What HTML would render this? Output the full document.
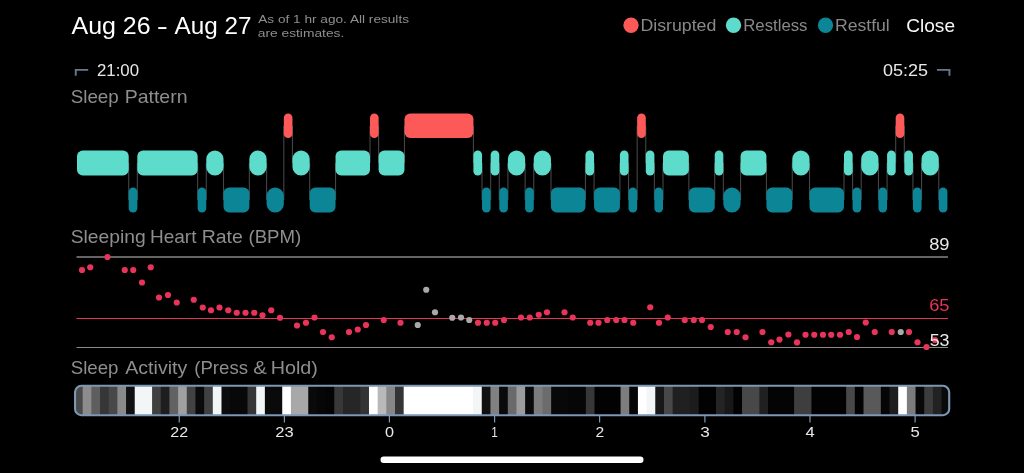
<!DOCTYPE html>
<html lang="en"><head><meta charset="utf-8"><title>Sleep</title>
<style>
html,body{margin:0;padding:0;background:#000;}
body{width:1024px;height:473px;overflow:hidden;position:relative;font-family:"Liberation Sans",Arial,sans-serif;}
svg{position:absolute;left:0;top:0;display:block}
text{font-family:"Liberation Sans",Arial,sans-serif;}
.title{font-size:24.8px;fill:#fff}
.sub{font-size:11.8px;fill:#8e8e8e}
.sec{font-size:18.6px;fill:#8e8e8e}
.leg{font-size:16px;fill:#898989}
.close{font-size:18.2px;fill:#f7f7f7}
.time{font-size:16.6px;fill:#e8e8e8}
.ax{font-size:15.2px;fill:#e8e8e8}
.num{font-size:16.6px;fill:#eaeaea}
</style></head><body>
<svg width="1024" height="473" viewBox="0 0 1024 473">
<rect width="1024" height="473" fill="#000"/>
<text x="71.50" y="34.3" class="title" textLength="79.12" lengthAdjust="spacingAndGlyphs">Aug 26</text><text x="156.69" y="33.599999999999994" class="title" textLength="11.12" lengthAdjust="spacingAndGlyphs">-</text><text x="174.60" y="34.3" class="title" textLength="76.92" lengthAdjust="spacingAndGlyphs">Aug 27</text>
<text x="258.25" y="22.5" class="sub" textLength="150.75" lengthAdjust="spacingAndGlyphs">As of 1 hr ago. All results</text>
<text x="257.74" y="36.9" class="sub" textLength="86.53" lengthAdjust="spacingAndGlyphs">are estimates.</text>
<circle cx="631" cy="25.25" r="7.65" fill="#fd5958"/>
<text x="640.46" y="31.25" class="leg" textLength="75.82" lengthAdjust="spacingAndGlyphs">Disrupted</text>
<circle cx="733.5" cy="25.25" r="7.65" fill="#5edccb"/>
<text x="743.22" y="31.25" class="leg" textLength="64.29" lengthAdjust="spacingAndGlyphs">Restless</text>
<circle cx="825.5" cy="25.25" r="7.65" fill="#0c8696"/>
<text x="834.93" y="31.25" class="leg" textLength="54.87" lengthAdjust="spacingAndGlyphs">Restful</text>
<text x="906.22" y="31.75" class="close" textLength="48.80" lengthAdjust="spacingAndGlyphs">Close</text>
<path d="M75.75 75.8V69.9H88.2" stroke="#67798f" stroke-width="1.9" fill="none"/>
<text x="96.98" y="75.8" class="time" textLength="42.04" lengthAdjust="spacingAndGlyphs">21:00</text>
<text x="882.98" y="75.8" class="time" textLength="45.04" lengthAdjust="spacingAndGlyphs">05:25</text>
<path d="M937 69.9H949.45V75.8" stroke="#67798f" stroke-width="1.9" fill="none"/>
<text x="70.72" y="102.6" class="sec" textLength="48.06" lengthAdjust="spacingAndGlyphs">Sleep</text><text x="124.68" y="102.6" class="sec" textLength="62.88" lengthAdjust="spacingAndGlyphs">Pattern</text>
<path d="M128.71 163.0V200.0M137.32 200.0V163.0M197.65 163.0V200.0M206.27 200.0V163.0M223.50 163.0V200.0M249.36 200.0V163.0M266.59 163.0V200.0M283.83 200.0V125.75M292.45 125.75V163.0M309.68 163.0V200.0M335.53 200.0V163.0M370.01 163.0V125.75M378.62 125.75V163.0M404.48 163.0V125.75M473.42 125.75V163.0M482.04 163.0V200.0M490.66 200.0V163.0M499.27 163.0V200.0M507.89 200.0V163.0M525.13 163.0V200.0M533.74 200.0V163.0M550.98 163.0V200.0M585.45 200.0V163.0M594.07 163.0V200.0M619.92 200.0V163.0M628.54 163.0V200.0M637.16 200.0V125.75M645.78 125.75V163.0M654.39 163.0V200.0M663.01 200.0V163.0M688.87 163.0V200.0M714.72 200.0V163.0M723.34 163.0V200.0M740.57 200.0V163.0M766.43 163.0V200.0M792.28 200.0V163.0M809.51 163.0V200.0M843.99 200.0V163.0M852.60 163.0V200.0M861.22 200.0V163.0M878.46 163.0V200.0M887.08 200.0V163.0M895.69 163.0V125.75M904.31 125.75V163.0M912.93 163.0V200.0M921.55 200.0V163.0M938.78 163.0V200.0" stroke="#454545" stroke-width="1.1" fill="none"/>
<rect x="77.00" y="150.5" width="51.71" height="25.0" rx="5.70" fill="#5edccb"/>
<rect x="128.71" y="187.5" width="8.62" height="25.0" rx="4.31" fill="#0c8696"/>
<rect x="137.32" y="150.5" width="60.32" height="25.0" rx="5.70" fill="#5edccb"/>
<rect x="197.65" y="187.5" width="8.62" height="25.0" rx="4.31" fill="#0c8696"/>
<rect x="206.27" y="150.5" width="17.24" height="25.0" rx="8.62" fill="#5edccb"/>
<rect x="223.50" y="187.5" width="25.85" height="25.0" rx="5.70" fill="#0c8696"/>
<rect x="249.36" y="150.5" width="17.24" height="25.0" rx="8.62" fill="#5edccb"/>
<rect x="266.59" y="187.5" width="17.24" height="25.0" rx="8.62" fill="#0c8696"/>
<rect x="283.83" y="113.5" width="8.62" height="24.5" rx="4.31" fill="#fd5958"/>
<rect x="292.45" y="150.5" width="17.24" height="25.0" rx="8.62" fill="#5edccb"/>
<rect x="309.68" y="187.5" width="25.85" height="25.0" rx="5.70" fill="#0c8696"/>
<rect x="335.53" y="150.5" width="34.47" height="25.0" rx="5.70" fill="#5edccb"/>
<rect x="370.01" y="113.5" width="8.62" height="24.5" rx="4.31" fill="#fd5958"/>
<rect x="378.62" y="150.5" width="25.85" height="25.0" rx="5.70" fill="#5edccb"/>
<rect x="404.48" y="113.5" width="68.94" height="24.5" rx="5.70" fill="#fd5958"/>
<rect x="473.42" y="150.5" width="8.62" height="25.0" rx="4.31" fill="#5edccb"/>
<rect x="482.04" y="187.5" width="8.62" height="25.0" rx="4.31" fill="#0c8696"/>
<rect x="490.66" y="150.5" width="8.62" height="25.0" rx="4.31" fill="#5edccb"/>
<rect x="499.27" y="187.5" width="8.62" height="25.0" rx="4.31" fill="#0c8696"/>
<rect x="507.89" y="150.5" width="17.24" height="25.0" rx="8.62" fill="#5edccb"/>
<rect x="525.13" y="187.5" width="8.62" height="25.0" rx="4.31" fill="#0c8696"/>
<rect x="533.74" y="150.5" width="17.24" height="25.0" rx="8.62" fill="#5edccb"/>
<rect x="550.98" y="187.5" width="34.47" height="25.0" rx="5.70" fill="#0c8696"/>
<rect x="585.45" y="150.5" width="8.62" height="25.0" rx="4.31" fill="#5edccb"/>
<rect x="594.07" y="187.5" width="25.85" height="25.0" rx="5.70" fill="#0c8696"/>
<rect x="619.92" y="150.5" width="8.62" height="25.0" rx="4.31" fill="#5edccb"/>
<rect x="628.54" y="187.5" width="8.62" height="25.0" rx="4.31" fill="#0c8696"/>
<rect x="637.16" y="113.5" width="8.62" height="24.5" rx="4.31" fill="#fd5958"/>
<rect x="645.78" y="150.5" width="8.62" height="25.0" rx="4.31" fill="#5edccb"/>
<rect x="654.39" y="187.5" width="8.62" height="25.0" rx="4.31" fill="#0c8696"/>
<rect x="663.01" y="150.5" width="25.85" height="25.0" rx="5.70" fill="#5edccb"/>
<rect x="688.87" y="187.5" width="25.85" height="25.0" rx="5.70" fill="#0c8696"/>
<rect x="714.72" y="150.5" width="8.62" height="25.0" rx="4.31" fill="#5edccb"/>
<rect x="723.34" y="187.5" width="17.24" height="25.0" rx="8.62" fill="#0c8696"/>
<rect x="740.57" y="150.5" width="25.85" height="25.0" rx="5.70" fill="#5edccb"/>
<rect x="766.43" y="187.5" width="25.85" height="25.0" rx="5.70" fill="#0c8696"/>
<rect x="792.28" y="150.5" width="17.24" height="25.0" rx="8.62" fill="#5edccb"/>
<rect x="809.51" y="187.5" width="34.47" height="25.0" rx="5.70" fill="#0c8696"/>
<rect x="843.99" y="150.5" width="8.62" height="25.0" rx="4.31" fill="#5edccb"/>
<rect x="852.60" y="187.5" width="8.62" height="25.0" rx="4.31" fill="#0c8696"/>
<rect x="861.22" y="150.5" width="17.24" height="25.0" rx="8.62" fill="#5edccb"/>
<rect x="878.46" y="187.5" width="8.62" height="25.0" rx="4.31" fill="#0c8696"/>
<rect x="887.08" y="150.5" width="8.62" height="25.0" rx="4.31" fill="#5edccb"/>
<rect x="895.69" y="113.5" width="8.62" height="24.5" rx="4.31" fill="#fd5958"/>
<rect x="904.31" y="150.5" width="8.62" height="25.0" rx="4.31" fill="#5edccb"/>
<rect x="912.93" y="187.5" width="8.62" height="25.0" rx="4.31" fill="#0c8696"/>
<rect x="921.55" y="150.5" width="17.24" height="25.0" rx="8.62" fill="#5edccb"/>
<rect x="938.78" y="187.5" width="8.62" height="25.0" rx="4.31" fill="#0c8696"/>
<text x="70.72" y="242.5" class="sec" textLength="75.06" lengthAdjust="spacingAndGlyphs">Sleeping</text><text x="149.95" y="242.5" class="sec" textLength="46.57" lengthAdjust="spacingAndGlyphs">Heart</text><text x="201.66" y="242.5" class="sec" textLength="41.14" lengthAdjust="spacingAndGlyphs">Rate</text><text x="248.46" y="242.5" class="sec" textLength="52.85" lengthAdjust="spacingAndGlyphs">(BPM)</text>
<path d="M76.5 257H948" stroke="#868686" stroke-width="1.4"/>
<path d="M76.5 347.5H948" stroke="#8a8a8a" stroke-width="1"/>
<path d="M76.5 318.5H948" stroke="#e8335a" stroke-width="1"/>
<circle cx="82" cy="270" r="3.1" fill="#e8335a"/>
<circle cx="90.25" cy="267.25" r="3.1" fill="#e8335a"/>
<circle cx="107.5" cy="257" r="3.1" fill="#e8335a"/>
<circle cx="124.75" cy="270" r="3.1" fill="#e8335a"/>
<circle cx="133.25" cy="270" r="3.1" fill="#e8335a"/>
<circle cx="142" cy="282.5" r="3.1" fill="#e8335a"/>
<circle cx="150.75" cy="267.25" r="3.1" fill="#e8335a"/>
<circle cx="159" cy="297.5" r="3.1" fill="#e8335a"/>
<circle cx="168" cy="295" r="3.1" fill="#e8335a"/>
<circle cx="176.75" cy="302.5" r="3.1" fill="#e8335a"/>
<circle cx="193.75" cy="299.75" r="3.1" fill="#e8335a"/>
<circle cx="202.75" cy="307.5" r="3.1" fill="#e8335a"/>
<circle cx="211" cy="310.25" r="3.1" fill="#e8335a"/>
<circle cx="219.5" cy="307.5" r="3.1" fill="#e8335a"/>
<circle cx="228.25" cy="310.25" r="3.1" fill="#e8335a"/>
<circle cx="236.75" cy="312.75" r="3.1" fill="#e8335a"/>
<circle cx="245.5" cy="312.75" r="3.1" fill="#e8335a"/>
<circle cx="254.25" cy="312.75" r="3.1" fill="#e8335a"/>
<circle cx="262.5" cy="315.25" r="3.1" fill="#e8335a"/>
<circle cx="271.25" cy="310.25" r="3.1" fill="#e8335a"/>
<circle cx="280" cy="317.75" r="3.1" fill="#e8335a"/>
<circle cx="297" cy="325.5" r="3.1" fill="#e8335a"/>
<circle cx="306" cy="322.75" r="3.1" fill="#e8335a"/>
<circle cx="314.5" cy="317.5" r="3.1" fill="#e8335a"/>
<circle cx="323" cy="332" r="3.1" fill="#e8335a"/>
<circle cx="331.75" cy="337.25" r="3.1" fill="#e8335a"/>
<circle cx="349" cy="332" r="3.1" fill="#e8335a"/>
<circle cx="357.75" cy="329.5" r="3.1" fill="#e8335a"/>
<circle cx="366" cy="325" r="3.1" fill="#e8335a"/>
<circle cx="383.75" cy="320" r="3.1" fill="#e8335a"/>
<circle cx="400.5" cy="322.75" r="3.1" fill="#e8335a"/>
<circle cx="417.75" cy="325" r="3.1" fill="#a9a9a9"/>
<circle cx="426.25" cy="289.75" r="3.1" fill="#a9a9a9"/>
<circle cx="435" cy="312.25" r="3.1" fill="#a9a9a9"/>
<circle cx="452.25" cy="317.75" r="3.1" fill="#a9a9a9"/>
<circle cx="461" cy="317.5" r="3.1" fill="#a9a9a9"/>
<circle cx="469.25" cy="320" r="3.1" fill="#a9a9a9"/>
<circle cx="478" cy="322.75" r="3.1" fill="#e8335a"/>
<circle cx="486.75" cy="322.75" r="3.1" fill="#e8335a"/>
<circle cx="495.25" cy="322.75" r="3.1" fill="#e8335a"/>
<circle cx="504" cy="320" r="3.1" fill="#e8335a"/>
<circle cx="521" cy="317.5" r="3.1" fill="#e8335a"/>
<circle cx="529.75" cy="317.5" r="3.1" fill="#e8335a"/>
<circle cx="538.75" cy="314.75" r="3.1" fill="#e8335a"/>
<circle cx="547" cy="312.25" r="3.1" fill="#e8335a"/>
<circle cx="564.5" cy="312.25" r="3.1" fill="#e8335a"/>
<circle cx="572.75" cy="317.5" r="3.1" fill="#e8335a"/>
<circle cx="590.25" cy="322.75" r="3.1" fill="#e8335a"/>
<circle cx="598.5" cy="322.75" r="3.1" fill="#e8335a"/>
<circle cx="607.25" cy="320" r="3.1" fill="#e8335a"/>
<circle cx="616.25" cy="320" r="3.1" fill="#e8335a"/>
<circle cx="624.5" cy="320" r="3.1" fill="#e8335a"/>
<circle cx="633.25" cy="322.75" r="3.1" fill="#e8335a"/>
<circle cx="650.25" cy="307.25" r="3.1" fill="#e8335a"/>
<circle cx="659" cy="322.75" r="3.1" fill="#e8335a"/>
<circle cx="667.75" cy="317.5" r="3.1" fill="#e8335a"/>
<circle cx="684.75" cy="320" r="3.1" fill="#e8335a"/>
<circle cx="693.75" cy="320" r="3.1" fill="#e8335a"/>
<circle cx="702" cy="320" r="3.1" fill="#e8335a"/>
<circle cx="710.75" cy="327" r="3.1" fill="#e8335a"/>
<circle cx="727.75" cy="332" r="3.1" fill="#e8335a"/>
<circle cx="736.75" cy="332" r="3.1" fill="#e8335a"/>
<circle cx="745.5" cy="337.25" r="3.1" fill="#e8335a"/>
<circle cx="762.5" cy="332" r="3.1" fill="#e8335a"/>
<circle cx="771.25" cy="342.25" r="3.1" fill="#e8335a"/>
<circle cx="779.5" cy="339.6" r="3.1" fill="#e8335a"/>
<circle cx="788.4" cy="334.5" r="3.1" fill="#e8335a"/>
<circle cx="797" cy="342.4" r="3.1" fill="#e8335a"/>
<circle cx="805.5" cy="334.75" r="3.1" fill="#e8335a"/>
<circle cx="814.25" cy="334.75" r="3.1" fill="#e8335a"/>
<circle cx="823" cy="334.75" r="3.1" fill="#e8335a"/>
<circle cx="831.25" cy="334.75" r="3.1" fill="#e8335a"/>
<circle cx="840" cy="334.75" r="3.1" fill="#e8335a"/>
<circle cx="848.75" cy="332" r="3.1" fill="#e8335a"/>
<circle cx="857" cy="337" r="3.1" fill="#e8335a"/>
<circle cx="865.75" cy="322.5" r="3.1" fill="#e8335a"/>
<circle cx="874.75" cy="332" r="3.1" fill="#e8335a"/>
<circle cx="891.75" cy="332" r="3.1" fill="#e8335a"/>
<circle cx="900.75" cy="332" r="3.1" fill="#a9a9a9"/>
<circle cx="909" cy="332" r="3.1" fill="#e8335a"/>
<circle cx="917.5" cy="342.25" r="3.1" fill="#e8335a"/>
<circle cx="926.5" cy="347" r="3.1" fill="#e8335a"/>
<circle cx="935" cy="340" r="3.1" fill="#e8335a"/>
<text x="929.20" y="250" class="num" textLength="20.36" lengthAdjust="spacingAndGlyphs">89</text>
<text x="929.20" y="311.25" class="num" textLength="20.36" lengthAdjust="spacingAndGlyphs" style="fill:#e8335a">65</text>
<text x="929.69" y="346.25" class="num" textLength="19.86" lengthAdjust="spacingAndGlyphs">53</text>
<text x="70.72" y="374.4" class="sec" textLength="47.80" lengthAdjust="spacingAndGlyphs">Sleep</text><text x="125.25" y="374.4" class="sec" textLength="62.01" lengthAdjust="spacingAndGlyphs">Activity</text><text x="194.21" y="374.4" class="sec" textLength="53.81" lengthAdjust="spacingAndGlyphs">(Press</text><text x="253.18" y="374.4" class="sec" textLength="13.59" lengthAdjust="spacingAndGlyphs">&amp;</text><text x="270.65" y="374.4" class="sec" textLength="47.18" lengthAdjust="spacingAndGlyphs">Hold)</text>
<defs><clipPath id="bc"><rect x="75.05" y="385.8" width="874.15" height="29.4" rx="6.3"/></clipPath></defs>
<g clip-path="url(#bc)">
<rect x="74.00" y="384" width="878.25" height="33" fill="#4a4a4a"/>
<rect x="82.68" y="384" width="869.57" height="33" fill="#8c8c8c"/>
<rect x="91.35" y="384" width="860.90" height="33" fill="#5e5e5e"/>
<rect x="100.03" y="384" width="852.22" height="33" fill="#363636"/>
<rect x="108.70" y="384" width="843.55" height="33" fill="#484848"/>
<rect x="117.38" y="384" width="834.87" height="33" fill="#8a8a8a"/>
<rect x="126.05" y="384" width="826.20" height="33" fill="#101010"/>
<rect x="134.73" y="384" width="817.52" height="33" fill="#f2f6f7"/>
<rect x="152.08" y="384" width="800.17" height="33" fill="#404040"/>
<rect x="160.76" y="384" width="791.49" height="33" fill="#1e1e1e"/>
<rect x="169.43" y="384" width="782.82" height="33" fill="#626262"/>
<rect x="178.11" y="384" width="774.14" height="33" fill="#a0a0a0"/>
<rect x="186.78" y="384" width="765.47" height="33" fill="#424242"/>
<rect x="195.46" y="384" width="756.79" height="33" fill="#0a0a0a"/>
<rect x="204.14" y="384" width="748.11" height="33" fill="#404040"/>
<rect x="212.81" y="384" width="739.44" height="33" fill="#f2f6f7"/>
<rect x="221.49" y="384" width="730.76" height="33" fill="#0c0c0c"/>
<rect x="230.16" y="384" width="722.09" height="33" fill="#080808"/>
<rect x="247.51" y="384" width="704.74" height="33" fill="#363636"/>
<rect x="256.19" y="384" width="696.06" height="33" fill="#f2f6f7"/>
<rect x="264.87" y="384" width="687.38" height="33" fill="#0a0a0a"/>
<rect x="282.22" y="384" width="670.03" height="33" fill="#ffffff"/>
<rect x="290.89" y="384" width="661.36" height="33" fill="#a8a8a8"/>
<rect x="308.25" y="384" width="644.00" height="33" fill="#0a0a0a"/>
<rect x="316.92" y="384" width="635.33" height="33" fill="#060606"/>
<rect x="325.60" y="384" width="626.65" height="33" fill="#040404"/>
<rect x="334.27" y="384" width="617.98" height="33" fill="#383838"/>
<rect x="342.95" y="384" width="609.30" height="33" fill="#262626"/>
<rect x="360.30" y="384" width="591.95" height="33" fill="#343434"/>
<rect x="368.98" y="384" width="583.27" height="33" fill="#ffffff"/>
<rect x="377.65" y="384" width="574.60" height="33" fill="#b9b9b9"/>
<rect x="386.33" y="384" width="565.92" height="33" fill="#878787"/>
<rect x="395.00" y="384" width="557.25" height="33" fill="#343434"/>
<rect x="403.68" y="384" width="548.57" height="33" fill="#ffffff"/>
<rect x="473.08" y="384" width="479.17" height="33" fill="#f2f6f7"/>
<rect x="481.76" y="384" width="470.49" height="33" fill="#101010"/>
<rect x="490.44" y="384" width="461.81" height="33" fill="#818181"/>
<rect x="499.11" y="384" width="453.14" height="33" fill="#0a0a0a"/>
<rect x="507.79" y="384" width="444.46" height="33" fill="#6a6a6a"/>
<rect x="516.46" y="384" width="435.79" height="33" fill="#9c9c9c"/>
<rect x="525.14" y="384" width="427.11" height="33" fill="#0a0a0a"/>
<rect x="533.81" y="384" width="418.44" height="33" fill="#7c7c7c"/>
<rect x="542.49" y="384" width="409.76" height="33" fill="#6c6c6c"/>
<rect x="551.17" y="384" width="401.08" height="33" fill="#080808"/>
<rect x="568.52" y="384" width="383.73" height="33" fill="#060606"/>
<rect x="585.87" y="384" width="366.38" height="33" fill="#373737"/>
<rect x="594.54" y="384" width="357.71" height="33" fill="#020202"/>
<rect x="620.57" y="384" width="331.68" height="33" fill="#7d7d7d"/>
<rect x="629.25" y="384" width="323.00" height="33" fill="#060606"/>
<rect x="637.92" y="384" width="314.33" height="33" fill="#ffffff"/>
<rect x="646.60" y="384" width="305.65" height="33" fill="#f2f6f7"/>
<rect x="655.27" y="384" width="296.98" height="33" fill="#181818"/>
<rect x="663.95" y="384" width="288.30" height="33" fill="#484848"/>
<rect x="672.63" y="384" width="279.62" height="33" fill="#202020"/>
<rect x="689.98" y="384" width="262.27" height="33" fill="#1c1c1c"/>
<rect x="698.65" y="384" width="253.60" height="33" fill="#020202"/>
<rect x="716.00" y="384" width="236.25" height="33" fill="#242424"/>
<rect x="724.68" y="384" width="227.57" height="33" fill="#181818"/>
<rect x="733.36" y="384" width="218.89" height="33" fill="#020202"/>
<rect x="742.03" y="384" width="210.22" height="33" fill="#484848"/>
<rect x="759.38" y="384" width="192.87" height="33" fill="#202020"/>
<rect x="768.06" y="384" width="184.19" height="33" fill="#040404"/>
<rect x="794.09" y="384" width="158.16" height="33" fill="#3e3e3e"/>
<rect x="811.44" y="384" width="140.81" height="33" fill="#020202"/>
<rect x="846.14" y="384" width="106.11" height="33" fill="#484848"/>
<rect x="854.82" y="384" width="97.43" height="33" fill="#020202"/>
<rect x="863.49" y="384" width="88.76" height="33" fill="#595959"/>
<rect x="880.84" y="384" width="71.41" height="33" fill="#060606"/>
<rect x="889.52" y="384" width="62.73" height="33" fill="#1e1e1e"/>
<rect x="898.20" y="384" width="54.05" height="33" fill="#ffffff"/>
<rect x="906.87" y="384" width="45.38" height="33" fill="#7c7c7c"/>
<rect x="915.55" y="384" width="36.70" height="33" fill="#080808"/>
<rect x="924.22" y="384" width="28.03" height="33" fill="#3c3c3c"/>
<rect x="932.90" y="384" width="19.35" height="33" fill="#222222"/>
<rect x="941.57" y="384" width="10.68" height="33" fill="#0a0a0a"/>
</g>
<rect x="75.05" y="385.8" width="874.15" height="29.4" rx="6.3" fill="none" stroke="#7e97b5" stroke-width="2.1"/>
<path d="M179.25 416V422.5M284.4 416V422.5M389.4 416V422.5M494.6 416V422.5M599.6 416V422.5M704.9 416V422.5M810 416V422.5M915.1 416V422.5" stroke="#7e97b5" stroke-width="1.2" fill="none"/>
<text x="170.31" y="436.9" class="ax" textLength="17.88" lengthAdjust="spacingAndGlyphs">22</text>
<text x="275.18" y="436.9" class="ax" textLength="18.43" lengthAdjust="spacingAndGlyphs">23</text>
<text x="384.90" y="436.9" class="ax" textLength="9.01" lengthAdjust="spacingAndGlyphs">0</text>
<text x="491.13" y="436.9" class="ax" textLength="6.54" lengthAdjust="spacingAndGlyphs">1</text>
<text x="595.63" y="436.9" class="ax" textLength="8.70" lengthAdjust="spacingAndGlyphs">2</text>
<text x="700.37" y="436.9" class="ax" textLength="9.56" lengthAdjust="spacingAndGlyphs">3</text>
<text x="805.52" y="436.9" class="ax" textLength="9.22" lengthAdjust="spacingAndGlyphs">4</text>
<text x="910.59" y="436.9" class="ax" textLength="9.27" lengthAdjust="spacingAndGlyphs">5</text>
<rect x="380.5" y="456.5" width="263" height="6.5" rx="3.25" fill="#fff"/>
</svg>
</body></html>
